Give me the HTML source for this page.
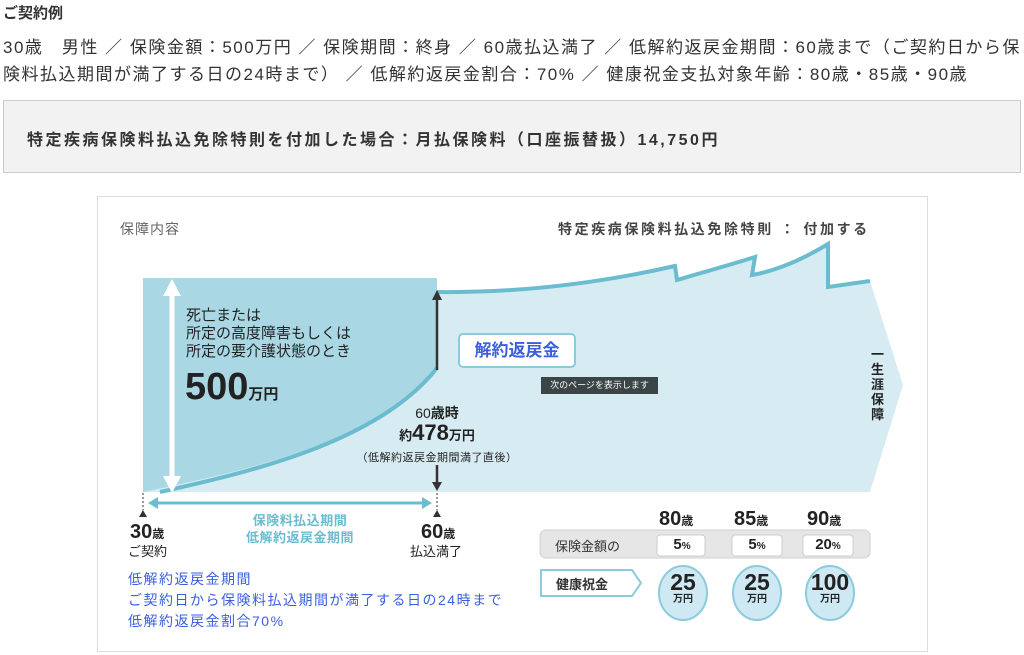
<!DOCTYPE html>
<html><head><meta charset="utf-8"><style>
body{margin:0;width:1024px;height:655px;background:#fff;font-family:"Liberation Sans","Noto Sans CJK JP",sans-serif;color:#333;position:relative;overflow:hidden}
.a{position:absolute;white-space:nowrap}
</style></head><body>
<div class="a" style="left:3px;top:2px;font-size:15px;font-weight:bold">ご契約例</div>
<div class="a" style="left:3px;top:34px;font-size:17px;line-height:27px;letter-spacing:1.5px">30歳　男性 ／ 保険金額：500万円 ／ 保険期間：終身 ／ 60歳払込満了 ／ 低解約返戻金期間：60歳まで（ご契約日から保<br>険料払込期間が満了する日の24時まで） ／ 低解約返戻金割合：70% ／ 健康祝金支払対象年齢：80歳・85歳・90歳</div>
<div class="a" style="left:3px;top:100px;width:1016px;height:71px;background:#f2f2f2;border:1px solid #ccc"></div>
<div class="a" style="left:27px;top:126px;font-size:16px;font-weight:bold;letter-spacing:2.5px">特定疾病保険料払込免除特則を付加した場合：月払保険料（口座振替扱）14,750円</div>
<div class="a" style="left:97px;top:196px;width:829px;height:454px;border:1px solid #ddd"></div>
<svg class="a" style="left:0;top:0" width="1024" height="655">
<path d="M143,492 L143,278 L437,278 L437,292 C520,293 600,283 675,266 L677,280 C700,273 730,265 755,257 L752,275 C780,270 805,258 828,244 L828,287 L870,281 L903,385 L870,492 Z" fill="#d6ecf2"/>
<path d="M143,278 L437,278 L437,368 C380,440 250,470 143,492 Z" fill="#a9d8e4"/>
<path d="M160,492 C260,470 380,440 437,368" fill="none" stroke="#6bbccf" stroke-width="4"/>
<path d="M437,292 C520,293 600,283 675,266 L677,280 C700,273 730,265 755,257 L752,275 C780,270 805,258 828,244 L828,287 L870,281" fill="none" stroke="#6bbccf" stroke-width="4"/>
<path d="M172,290 L172,482" stroke="#fff" stroke-width="5"/>
<path d="M163,296 L172,279 L181,296Z M163,476 L172,493 L181,476Z" fill="#fff"/>
<line x1="437" y1="370" x2="437" y2="298" stroke="#333" stroke-width="2.5"/>
<path d="M432,300 L437,290 L442,300Z" fill="#333"/>
<line x1="437" y1="465" x2="437" y2="484" stroke="#333" stroke-width="2.5"/>
<path d="M432,482 L437,491 L442,482Z" fill="#333"/>
<line x1="143" y1="493" x2="143" y2="510" stroke="#333" stroke-dasharray="2,2"/>
<line x1="437" y1="493" x2="437" y2="510" stroke="#333" stroke-dasharray="2,2"/>
<path d="M139,517 L143,510 L147,517Z M433,517 L437,510 L441,517Z" fill="#333"/>
<line x1="155" y1="503" x2="425" y2="503" stroke="#6bbccf" stroke-width="3"/>
<path d="M158,497 L148,503 L158,509Z M422,497 L432,503 L422,509Z" fill="#6bbccf"/>
<rect x="540" y="530" width="330" height="28" rx="6" fill="#e6e6e6" stroke="#d0d0d0"/>
<rect x="657" y="535" width="48" height="21" rx="3" fill="#fff" stroke="#ccc"/>
<rect x="732" y="535" width="50" height="21" rx="3" fill="#fff" stroke="#ccc"/>
<rect x="803" y="535" width="50" height="21" rx="3" fill="#fff" stroke="#ccc"/>
<path d="M541,570 L632,570 L641,583 L632,596 L541,596 Z" fill="#fff" stroke="#8ccbdc" stroke-width="2"/>
<g fill="#cfe9f4" stroke="#8ccbdc" stroke-width="2">
<ellipse cx="683" cy="593" rx="24" ry="27"/><ellipse cx="757" cy="593" rx="24" ry="27"/><ellipse cx="830" cy="593" rx="24" ry="27"/></g>
</svg>
<div class="a" style="left:120px;top:219px;font-size:14px;color:#666;letter-spacing:1px">保障内容</div>
<div class="a" style="left:558px;top:219px;font-size:14px;font-weight:bold;color:#444;letter-spacing:2.6px">特定疾病保険料払込免除特則 ： 付加する</div>
<div class="a" style="left:186px;top:307px;font-size:15px;line-height:18px;color:#222">死亡または<br>所定の高度障害もしくは<br>所定の要介護状態のとき</div>
<div class="a" style="left:185px;top:366px;font-size:38px;font-weight:bold;color:#222">500<span style="font-size:15px">万円</span></div>
<div class="a" style="left:458px;top:333px;width:118px;height:35px;background:#fff;border:2px solid #8ccbdc;border-radius:5px;box-sizing:border-box;text-align:center;line-height:31px;font-size:17px;font-weight:bold;color:#3a5fe0">解約返戻金</div>
<div class="a" style="left:541px;top:377px;width:117px;height:17px;background:#3b4447;color:#fff;font-size:9px;line-height:17px;text-align:center">次のページを表示します</div>
<div class="a" style="left:337px;top:403px;width:200px;text-align:center;font-size:14px;color:#222">60<b>歳時</b></div>
<div class="a" style="left:337px;top:420px;width:200px;text-align:center;font-size:22px;font-weight:bold;color:#222"><span style="font-size:13px">約</span>478<span style="font-size:13px">万円</span></div>
<div class="a" style="left:337px;top:449px;width:200px;text-align:center;font-size:11px;color:#222;letter-spacing:0.5px">（低解約返戻金期間満了直後）</div>
<div class="a" style="left:871px;top:347px;width:14px;font-size:13px;font-weight:bold;line-height:15px;white-space:normal;color:#222">一生涯保障</div>
<div class="a" style="left:130px;top:521px;font-size:20px;font-weight:bold;color:#222">30<span style="font-size:12px">歳</span></div>
<div class="a" style="left:128px;top:541px;font-size:13px;color:#222">ご契約</div>
<div class="a" style="left:421px;top:521px;font-size:20px;font-weight:bold;color:#222">60<span style="font-size:12px">歳</span></div>
<div class="a" style="left:410px;top:541px;font-size:13px;color:#222">払込満了</div>
<div class="a" style="left:200px;top:512px;width:200px;text-align:center;font-size:13px;line-height:17px;color:#6bbccf;font-weight:bold;letter-spacing:0.5px">保険料払込期間<br>低解約返戻金期間</div>
<div class="a" style="left:128px;top:569px;font-size:14px;line-height:21px;color:#3a5fe0;letter-spacing:1.5px">低解約返戻金期間<br>ご契約日から保険料払込期間が満了する日の24時まで<br>低解約返戻金割合70%</div>
<div class="a" style="left:659px;top:508px;font-size:20px;font-weight:bold;color:#222">80<span style="font-size:12px">歳</span></div>
<div class="a" style="left:734px;top:508px;font-size:20px;font-weight:bold;color:#222">85<span style="font-size:12px">歳</span></div>
<div class="a" style="left:807px;top:508px;font-size:20px;font-weight:bold;color:#222">90<span style="font-size:12px">歳</span></div>
<div class="a" style="left:555px;top:536px;font-size:13px;color:#333">保険金額の</div>
<div class="a" style="left:657px;top:536px;width:50px;text-align:center;font-size:15px;font-weight:bold;color:#222">5<span style="font-size:10px">%</span></div>
<div class="a" style="left:732px;top:536px;width:50px;text-align:center;font-size:15px;font-weight:bold;color:#222">5<span style="font-size:10px">%</span></div>
<div class="a" style="left:803px;top:536px;width:50px;text-align:center;font-size:15px;font-weight:bold;color:#222">20<span style="font-size:10px">%</span></div>
<div class="a" style="left:556px;top:574px;font-size:13px;color:#333;font-weight:bold">健康祝金</div>
<div class="a" style="left:659px;top:570px;width:48px;text-align:center;font-size:23px;font-weight:bold;color:#222;line-height:24px">25<br><span style="font-size:10px;line-height:12px;display:block">万円</span></div>
<div class="a" style="left:733px;top:570px;width:48px;text-align:center;font-size:23px;font-weight:bold;color:#222;line-height:24px">25<br><span style="font-size:10px;line-height:12px;display:block">万円</span></div>
<div class="a" style="left:806px;top:570px;width:48px;text-align:center;font-size:23px;font-weight:bold;color:#222;line-height:24px">100<br><span style="font-size:10px;line-height:12px;display:block">万円</span></div>
</body></html>
